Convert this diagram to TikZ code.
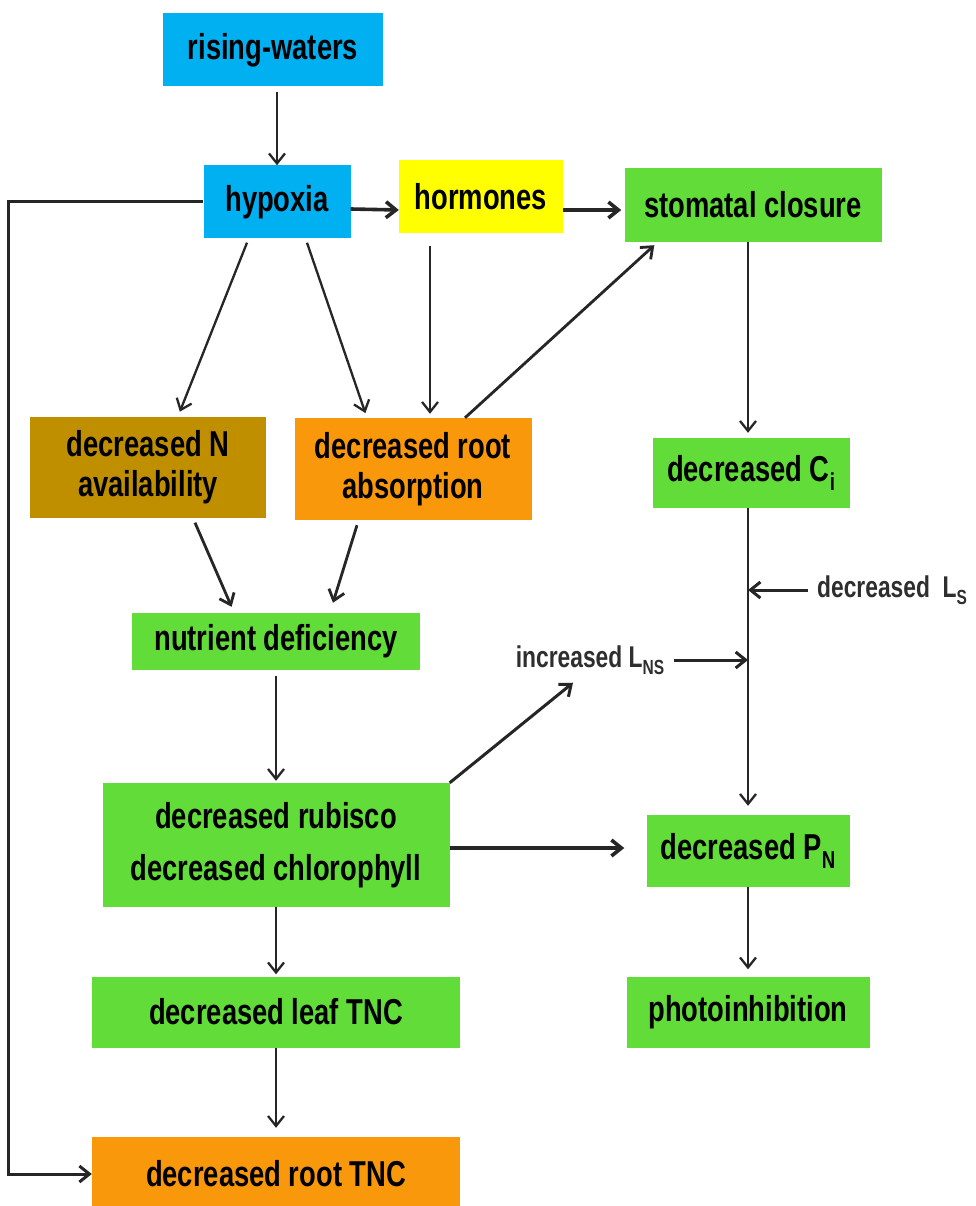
\documentclass[tikz,border=0pt]{standalone}
\usepackage{fontspec}
\usetikzlibrary{arrows.meta,calc}
\newfontfamily\nf{Liberation Sans}[FakeStretch=0.76]
\newcommand\subx[1]{\raisebox{-0.45ex}{\scalebox{0.68}{#1}}}
\definecolor{cyanc}{RGB}{0,176,240}
\definecolor{yellowc}{RGB}{255,255,0}
\definecolor{greenc}{RGB}{98,220,56}
\definecolor{goldc}{RGB}{191,143,0}
\definecolor{orangec}{RGB}{250,152,12}
\begin{document}
\begin{tikzpicture}[x=1pt,y=-1pt,
  bx/.style={inner sep=0pt, align=center, text=black,
    font=\nf\bfseries\fontsize{36}{40}\selectfont},
  lbl/.style={inner sep=0pt, text=black!82,
    font=\nf\bfseries\fontsize{30}{32}\selectfont},
  ar/.style={-{Straight Barb[length=10pt,width=16pt]}, line width=2.3pt, draw=black!85},
  tk/.style={ar, line width=3.6pt}]
\useasboundingbox[fill=white] (0,0) rectangle (975,1206);

\node[bx, fill=cyanc, minimum width=220pt, minimum height=73pt] (rw) at (273,50) {rising-waters};
\node[bx, fill=cyanc, minimum width=147pt, minimum height=73pt] (hyp) at (277,202) {hypoxia};
\node[bx, fill=yellowc, minimum width=164pt, minimum height=73pt] (hor) at (481,197) {hormones};
\node[bx, fill=greenc, minimum width=257pt, minimum height=74pt] (sto) at (753,205) {stomatal closure};
\node[bx, fill=goldc, minimum width=236pt, minimum height=101pt] (dN) at (148,467) {decreased N\\availability};
\node[bx, fill=orangec, minimum width=237pt, minimum height=102pt] (dR) at (413,469) {decreased root\\absorption};
\node[bx, fill=greenc, minimum width=197pt, minimum height=70pt] (ci) at (751,473) {decreased C\subx{i}};
\node[bx, fill=greenc, minimum width=288pt, minimum height=57pt] (nd) at (276,641) {nutrient deficiency};
\node[bx, fill=greenc, minimum width=347pt, minimum height=124pt,
  font=\nf\bfseries\fontsize{36}{52}\selectfont] (rub) at (276,845) {decreased rubisco\\decreased chlorophyll};
\node[bx, fill=greenc, minimum width=203pt, minimum height=72pt] (pn) at (748,851) {decreased P\subx{N}};
\node[bx, fill=greenc, minimum width=368pt, minimum height=71pt] (leaf) at (276,1012) {decreased leaf TNC};
\node[bx, fill=greenc, minimum width=243pt, minimum height=71pt] (photo) at (748,1012) {photoinhibition};
\node[bx, fill=orangec, minimum width=368pt, minimum height=74pt] (root) at (276,1174) {decreased root TNC};

\node[lbl, anchor=west] (ls) at (817,590) {decreased\ \ L\subx{S}};
\node[lbl] (lns) at (590,660) {increased L\subx{NS}};

\coordinate (vx) at (748,0);
\coordinate (lx) at (8,0);
\coordinate (hx) at (430,0);

\draw[ar, shorten <=5pt] (rw.south -| hyp.north) -- (hyp.north);
\draw[ar, line width=3pt] (hyp.west) -- (hyp.west -| lx) |- (root.west);
\draw[tk] ([yshift=-7pt]hyp.east) -- ([yshift=-13pt]hor.west);
\draw[tk, shorten >=3pt] ([yshift=-13pt]hor.east) -- ([yshift=-5pt]sto.west);
\draw[ar, shorten >=5pt] ([xshift=-30pt,yshift=-4pt]hyp.south) -- ([xshift=30pt]dN.north);
\draw[ar, shorten >=5pt] ([xshift=30pt,yshift=-4pt]hyp.south) -- ([xshift=-46pt]dR.north);
\draw[ar, shorten <=12pt, shorten >=4pt] (hor.south -| hx) -- (dR.north -| hx);
\draw[ar, line width=2.8pt] ([xshift=52pt]dR.north) -- ([xshift=30pt,yshift=-3pt]sto.south west);
\draw[ar, shorten >=5pt] (sto.south -| vx) -- (ci.north -| vx);
\draw[ar, line width=2.8pt, shorten >=6pt] ([xshift=47pt,yshift=-5pt]dN.south) -- ([xshift=-42pt]nd.north);
\draw[ar, line width=2.8pt, shorten >=10pt] ([xshift=-56pt,yshift=-5pt]dR.south) -- ([xshift=54pt]nd.north);
\draw[ar, shorten >=9pt] (ci.south -| vx) -- (pn.north -| vx);
\draw[tk, line width=3pt] ([xshift=-9pt]ls.west) -- (ls.west -| vx);
\draw[tk, line width=3pt] ([xshift=10pt]lns.east) -- (lns.east -| vx);
\draw[ar, line width=3pt] (rub.north east) -- ([xshift=-17pt,yshift=-8pt]lns.south);
\draw[tk, shorten >=22pt] ([yshift=-3pt]rub.east) -- ([yshift=3pt]pn.west);
\draw[ar, shorten <=6pt, shorten >=2pt] (nd.south) -- (rub.north);
\draw[ar, shorten >=2pt] (rub.south) -- (leaf.north);
\draw[ar, shorten >=9pt] (leaf.south) -- (root.north);
\draw[ar, shorten >=7pt] (pn.south -| vx) -- (photo.north -| vx);
\end{tikzpicture}
\end{document}
